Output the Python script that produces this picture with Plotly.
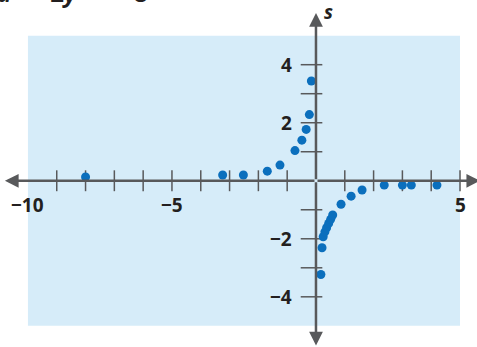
import plotly.graph_objects as go

# data points (t, s)
t_vals = [-8, -3.24, -2.52, -1.69, -1.25, -0.73, -0.49, -0.34, -0.23, -0.16,
          0.17, 0.21, 0.25, 0.31, 0.37, 0.44, 0.51, 0.58, 0.87, 1.22, 1.6,
          2.37, 3.0, 3.31, 4.2]
s_vals = [0.13, 0.2, 0.2, 0.33, 0.54, 1.04, 1.4, 1.77, 2.28, 3.44,
          -3.23, -2.31, -1.93, -1.76, -1.62, -1.47, -1.33, -1.18, -0.81, -0.53, -0.32,
          -0.15, -0.15, -0.15, -0.15]

x_ticks = [-9, -8, -7, -6, -5, -4, -3, -2, -1, 1, 2, 3, 4, 5]
y_ticks = [-4, -3, -2, -1, 1, 2, 3, 4]
x_labels = {-10: '\u221210', -5: '\u22125', 5: '5'}
y_labels = {4: '4', 2: '2', -2: '\u22122', -4: '\u22124'}

axis_col = '#58595b'
dot_col = '#0b6fbd'
font = dict(family='Open Sans', size=19, color='#231f20', weight='bold')

fig = go.Figure()

shapes = []
# light blue grid area
shapes.append(dict(type='rect', x0=-10, x1=5, y0=-5, y1=5, fillcolor='#d6ecf9',
                   line=dict(width=0), layer='below'))
for t in x_ticks:
    shapes.append(dict(type='line', x0=t, x1=t, y0=-0.36, y1=0.36,
                       line=dict(color=axis_col, width=1.5), layer='below'))
for s in y_ticks:
    shapes.append(dict(type='line', x0=-0.53, x1=0.22, y0=s, y1=s,
                       line=dict(color=axis_col, width=1.5), layer='below'))

annotations = []
# axes with arrowheads at both ends
for (x, y) in [(-10.8, 0), (5.7, 0), (0, 5.78), (0, -5.68)]:
    annotations.append(dict(x=x, y=y, ax=0, ay=0, axref='x', ayref='y', text='',
                            showarrow=True, arrowhead=2, arrowsize=1.1,
                            arrowwidth=2.5, arrowcolor=axis_col))
for v, txt in x_labels.items():
    annotations.append(dict(x=v, y=-0.85, text=txt, showarrow=False, font=font))
for v, txt in y_labels.items():
    annotations.append(dict(x=-0.78, y=v, text=txt, showarrow=False, font=font,
                            xanchor='right'))
annotations.append(dict(x=0.22, y=5.82, text='<i>s</i>', showarrow=False,
                        font=font, xanchor='left'))
annotations.append(dict(x=5.62, y=0.4, text='<i>t</i>', showarrow=False,
                        font=font, xanchor='left'))
# equation cut off at the top of the picture (only its bottom edge shows)
sp = '\u00a0'
eq_text = f'<i>u</i>{sp*2}+{sp*2}2<i>y</i>{sp*4}={sp*3}8'
annotations.append(dict(xref='paper', yref='paper', x=0, y=1, xshift=-5, yshift=-11,
                        xanchor='left', yanchor='bottom', showarrow=False,
                        text=eq_text,
                        font=dict(family='Open Sans', size=24, color='#231f20',
                                  weight='bold')))

fig.add_trace(go.Scatter(x=t_vals, y=s_vals, mode='markers',
                         marker=dict(color=dot_col, size=9), cliponaxis=False))

fig.update_layout(
    width=477, height=347,
    margin=dict(l=0, r=0, t=0, b=0),
    plot_bgcolor='white', paper_bgcolor='white',
    xaxis=dict(range=[-10.97, 5.59], visible=False),
    yaxis=dict(range=[-5.73, 6.23], visible=False),
    shapes=shapes, annotations=annotations,
    showlegend=False,
)

# page body has a default 8px margin, drop it so the figure sits at the corner
fig.write_html("out.html", config={'displayModeBar': False},
               post_script="document.body.style.margin='0px';")
